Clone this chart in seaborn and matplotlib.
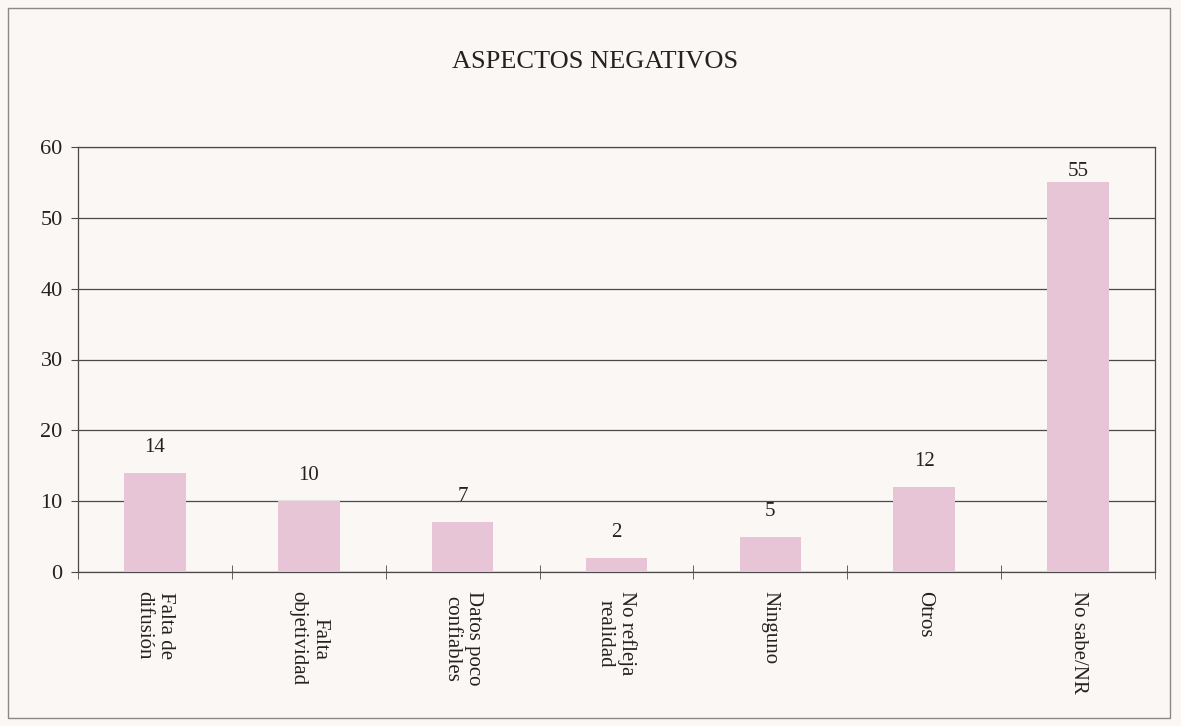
import pandas as pd
import seaborn as sns
import matplotlib.pyplot as plt
from matplotlib.patches import Rectangle

# datos del grafico
categorias = ["Falta de\ndifusión", "Falta\nobjetividad", "Datos poco\nconfiables",
              "No refleja\nrealidad", "Ninguno", "Otros", "No sabe/NR"]
valores = [14, 10, 7, 2, 5, 12, 55]
y_ticks = [0, 10, 20, 30, 40, 50, 60]

df = pd.DataFrame({"aspecto": categorias, "pct": valores})

sns.set_style("white")
plt.rcParams["font.family"] = ["Liberation Serif", "DejaVu Serif"]

fig = plt.figure(figsize=(11.81, 7.26), dpi=100, facecolor="#faf7f5")

# marco exterior
fig.patches.append(Rectangle((8 / 1181, 8 / 726), 1162 / 1181, 710 / 726,
                             transform=fig.transFigure, fill=False,
                             edgecolor="#8a8888", linewidth=1.0))

ax = fig.add_axes([78 / 1181, 1 - 572 / 726, (1155 - 78) / 1181, (572 - 147) / 726])
ax.set_facecolor("none")

sns.barplot(data=df, x="aspecto", y="pct", color="#e7c5d7", width=0.4,
            saturation=1, linewidth=0, ax=ax, zorder=3)

# etiquetas de valor (la de 55 queda mas baja, dentro del area)
for barra, v in zip(ax.patches, valores):
    y = min(v + 3.6, 56.6)
    ax.text(barra.get_x() + barra.get_width() / 2, y, str(v), ha="center", va="center",
            fontsize=15, color="#222222", zorder=4)

ax.set_ylim(0, 60)
ax.set_xlim(-0.5, len(categorias) - 0.5)
ax.set_yticks(y_ticks)
ax.yaxis.grid(True, color="#4a4a4a", linewidth=0.9, zorder=1)
ax.set_xlabel("")
ax.set_ylabel("")

for s in ["left", "right", "top", "bottom"]:
    ax.spines[s].set_visible(True)
    ax.spines[s].set_color("#4a4a4a")
    ax.spines[s].set_linewidth(0.9)

ax.tick_params(axis="y", direction="out", length=5, color="#4a4a4a", labelsize=16,
               labelcolor="#222222", left=True, pad=6)
ax.tick_params(axis="x", which="major", length=0, labelsize=15, labelcolor="#222222", pad=14)
ax.set_xticks([i - 0.5 for i in range(len(categorias) + 1)], minor=True)
ax.tick_params(axis="x", which="minor", direction="inout", length=10, color="#4a4a4a", bottom=True)
for lbl in ax.get_xticklabels():
    lbl.set_rotation(-90)
    lbl.set_va("top")
    lbl.set_ha("center")
    lbl.set_multialignment("center")

fig.text(595 / 1181, 1 - 62 / 726, "ASPECTOS NEGATIVOS", fontsize=19,
         ha="center", va="center", color="#222222")

fig.savefig("out.png", dpi=100, facecolor=fig.get_facecolor())
plt.close()
